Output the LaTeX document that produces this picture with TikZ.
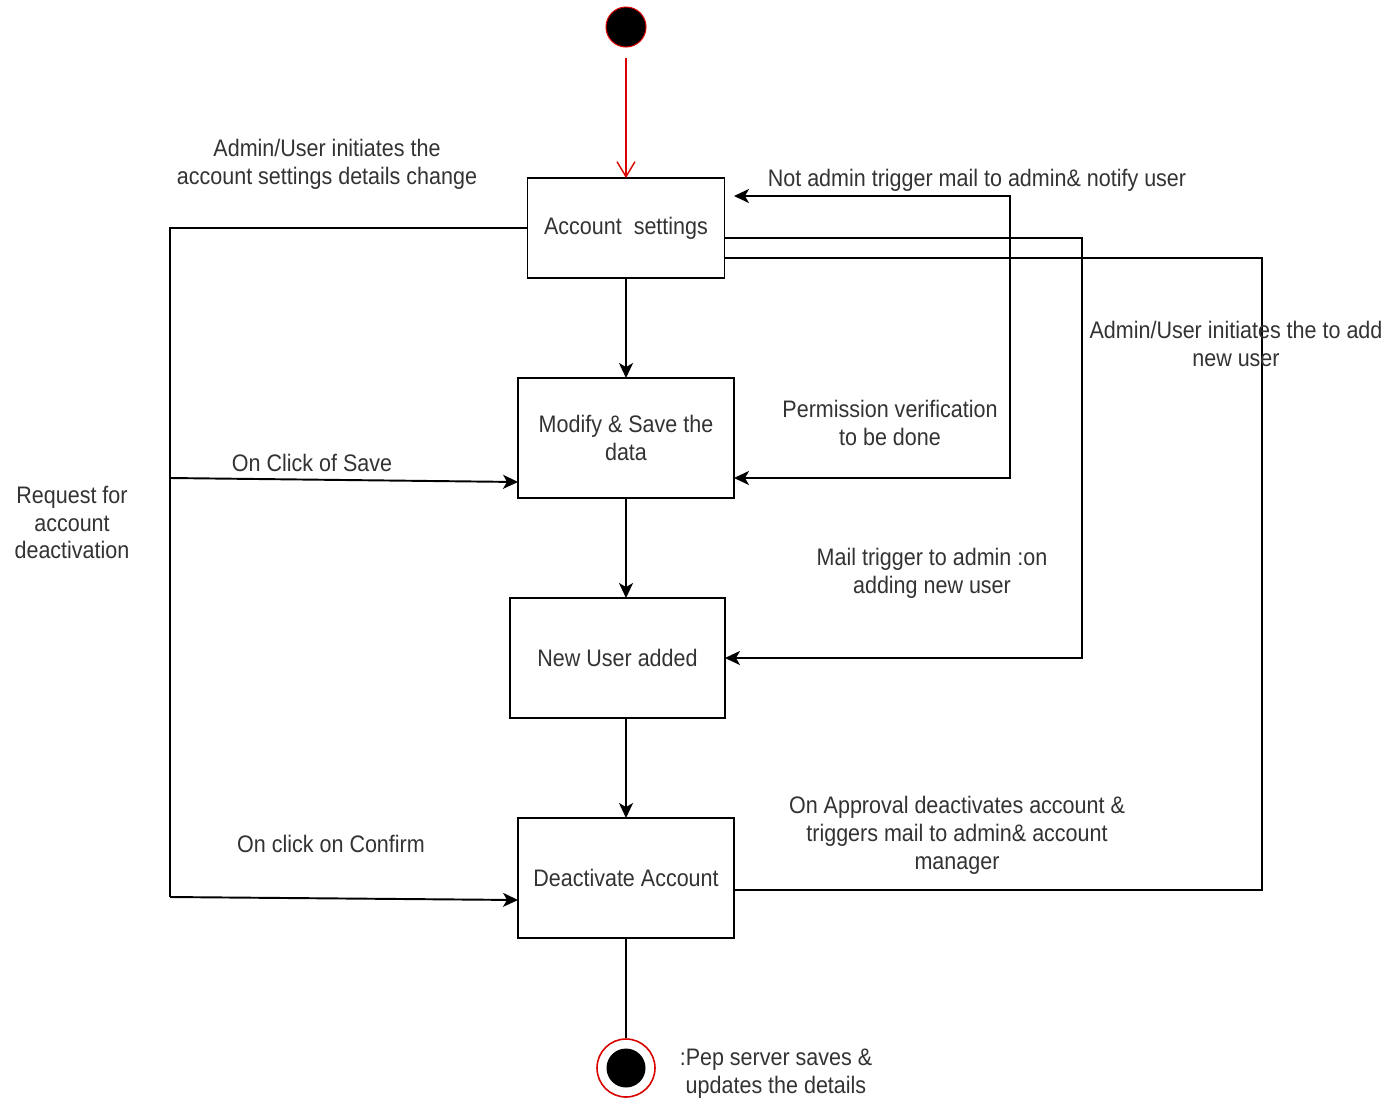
\documentclass[tikz,border=0pt]{standalone}
\usepackage{fontspec}
\setmainfont[FakeStretch=0.9]{Liberation Sans}
\usetikzlibrary{arrows.meta,calc}
\newcommand\diagfont{\fontsize{13.6}{15.9}\selectfont}

\begin{document}
\begin{tikzpicture}[x=0.02cm,y=-0.02cm,
  conn/.style={line width=1.1pt, draw=black},
  tip/.tip={Stealth[length=0.3cm,width=0.28cm,inset=0.08cm]},
  arr/.style={conn, -tip},
  biarr/.style={conn, tip-tip},
  state/.style={draw=black, line width=1.1pt, fill=white, inner sep=0pt, outer sep=0pt,
    align=center, text=black!80, font=\diagfont},
  lbl/.style={align=center, text=black!80, font=\diagfont, inner sep=0pt, yshift=-0.05cm}]

  % canvas
  \fill[white] (0,0) rectangle (1389,1110);
  \useasboundingbox (0,0) rectangle (1389,1110);

  % states
  \node[state, minimum width=3.94cm, minimum height=2cm]   (acc)    at (626,228)   {Account\ \ settings};
  \node[state, minimum width=4.32cm, minimum height=2.4cm] (mod)    at (626,438)   {Modify \& Save the\\data};
  \node[state, minimum width=4.3cm,  minimum height=2.4cm] (new)    at (617.5,658) {New User added};
  \node[state, minimum width=4.32cm, minimum height=2.4cm] (deact)  at (626,878)   {Deactivate Account};

  % initial and final pseudo-states
  \node[circle, fill=black, draw=red!85!black, line width=0.6pt, minimum size=0.8cm, inner sep=0pt] (start) at (626,27) {};
  \node[circle, draw=red!85!black, line width=0.9pt, minimum size=1.16cm, inner sep=0pt,
        path picture={\fill[black] (path picture bounding box.center) circle (0.39cm);}] (stop) at (626,1068) {};

  % bend points
  \coordinate (lc1) at (170,228);
  \coordinate (lc2) at (170,897);
  \coordinate (lb1) at (170,478);
  \coordinate (rv0) at (1010,300);
  \coordinate (rv1) at (1082,450);
  \coordinate (rv2) at (1262,500);

  % main flow
  \draw[red!85!black, line width=0.8pt, shorten <=0.2cm, -{Straight Barb[length=0.3cm,width=0.36cm]}] (start) -- (acc.north);
  \draw[arr] (acc.south) -- (mod.north);
  \draw[arr] (mod.south) -- (new.north -| mod.south);
  \draw[arr] (new.south -| mod.south) -- (deact.north);
  \draw[conn] (deact.south) -- (stop.north);

  % left-hand branch
  \draw[conn] (acc.west) -- (lc1) -- (lc2);
  \draw[arr] (lb1) -- ([yshift=-0.88cm]mod.west);
  \draw[arr] (lc2) -- ([yshift=-0.44cm]deact.west);

  % right-hand branches
  \draw[biarr] ([xshift=0.19cm,yshift=0.64cm]acc.east) -| (rv0) |- ([yshift=-0.8cm]mod.east);
  \draw[arr] ([yshift=-0.2cm]acc.east) -| (rv1) |- (new.east);
  \draw[conn] ([yshift=-0.6cm]acc.east) -| (rv2) |- ([yshift=-0.24cm]deact.east);

  % labels
  \node[lbl] (t1)  at (327,162)  {Admin/User initiates the\\account settings details change};
  \node[lbl] (t2)  at (977,178)  {Not admin trigger mail to admin\& notify user};
  \node[lbl] (t3)  at (1236,341) {Admin/User initiates the to add\\new user};
  \node[lbl] (t4)  at (890,420)  {Permission verification\\to be done};
  \node[lbl] (t5)  at (312,460)  {On Click of Save};
  \node[lbl] (t6)  at (72,520)   {Request for\\account\\deactivation};
  \node[lbl] (t7)  at (932,571)  {Mail trigger to admin :on\\adding new user};
  \node[lbl] (t8)  at (957,833)  {On Approval deactivates account \&\\triggers mail to admin\& account\\manager};
  \node[lbl] (t9)  at (331,841)  {On click on Confirm};
  \node[lbl] (t10) at (776,1071) {:Pep server saves \&\\updates the details};
\end{tikzpicture}
\end{document}
